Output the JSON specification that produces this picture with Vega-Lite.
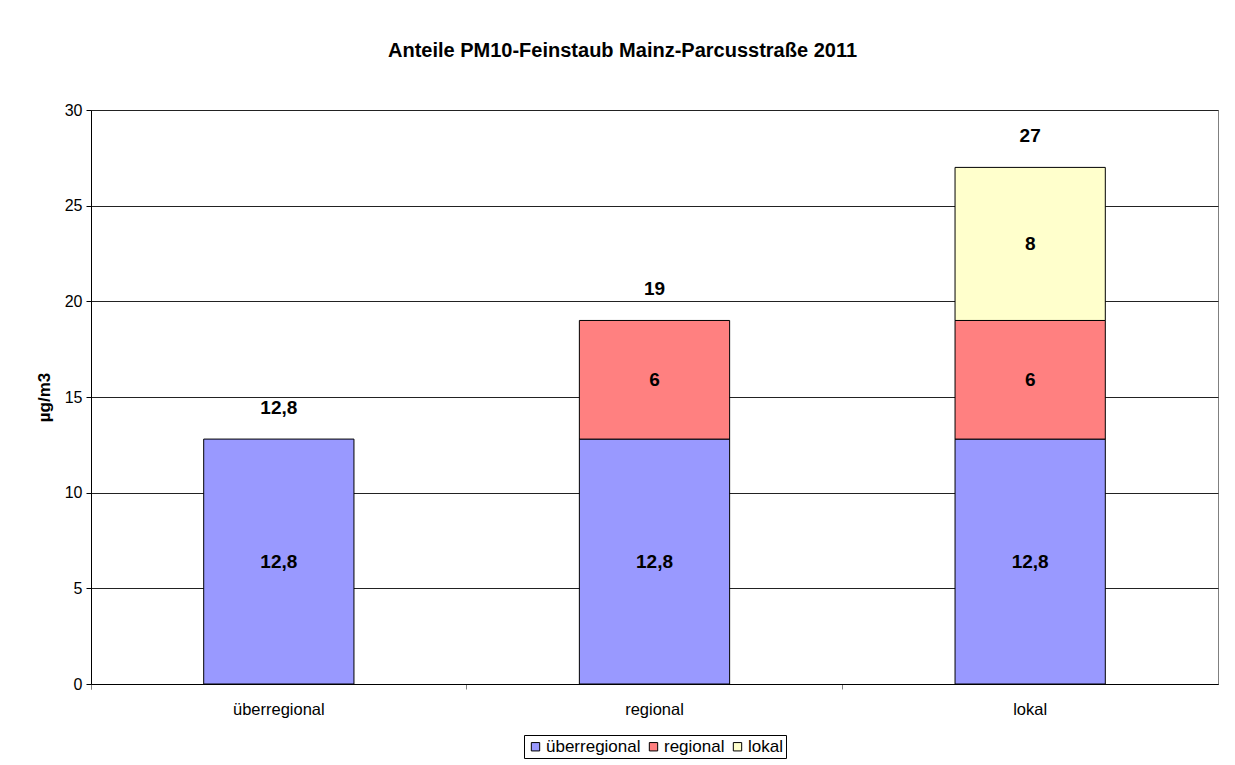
{
  "$schema": "https://vega.github.io/schema/vega-lite/v6.json",
  "width": 1127,
  "height": 574,
  "autosize": {"type": "none"},
  "padding": {"left": 91, "top": 110, "right": 17, "bottom": 81},
  "background": "white",
  "config": {
    "font": "Liberation Sans",
    "locale": {"number": {"decimal": ",", "thousands": ".", "grouping": [3], "currency": ["", " €"]}},
    "view": {"stroke": "#808080", "strokeWidth": 1}
  },
  "title": {
    "text": "Anteile PM10-Feinstaub Mainz-Parcusstraße 2011",
    "fontSize": 20,
    "fontWeight": "bold",
    "color": "black",
    "anchor": "middle",
    "baseline": "alphabetic",
    "offset": 25,
    "dx": -32
  },
  "data": {
    "values": [
      {"category": "überregional", "component": "überregional", "value": 12.8},
      {"category": "regional", "component": "überregional", "value": 12.8},
      {"category": "regional", "component": "regional", "value": 6.2},
      {"category": "lokal", "component": "überregional", "value": 12.8},
      {"category": "lokal", "component": "regional", "value": 6.2},
      {"category": "lokal", "component": "lokal", "value": 8}
    ]
  },
  "transform": [
    {"calculate": "indexof(['überregional','regional','lokal'], datum.component)", "as": "idx"},
    {"stack": "value", "groupby": ["category"], "sort": [{"field": "idx", "order": "ascending"}], "as": ["v0", "v1"]},
    {"calculate": "(datum.v0 + datum.v1) / 2", "as": "mid"},
    {"calculate": "datum.value >= 10 ? format(datum.value, '.1f') : format(datum.value, '.0f')", "as": "label"}
  ],
  "encoding": {
    "x": {
      "field": "category",
      "type": "nominal",
      "sort": ["überregional", "regional", "lokal"],
      "scale": {"paddingInner": 0, "paddingOuter": 0},
      "axis": {
        "title": null,
        "labelAngle": 0,
        "labelFontSize": 16.5,
        "labelColor": "black",
        "labelPadding": 12,
        "bandPosition": 0,
        "tickExtra": true,
        "tickSize": 5,
        "tickColor": "#808080",
        "domainColor": "black",
        "grid": false
      }
    }
  },
  "layer": [
    {
      "mark": {"type": "bar", "width": {"band": 0.4}, "stroke": "black", "strokeWidth": 1},
      "encoding": {
        "y": {
          "field": "v1",
          "type": "quantitative",
          "scale": {"domain": [0, 30], "nice": false},
          "axis": {
            "title": "µg/m3",
            "titleFontSize": 17,
            "titleFontWeight": "bold",
            "titleColor": "black",
            "titleX": -38,
            "titleY": 287,
            "titleAngle": -90,
            "titleBaseline": "bottom",
            "titleAlign": "center",
            "values": [0, 5, 10, 15, 20, 25, 30],
            "labelFontSize": 16,
            "labelColor": "black",
            "labelPadding": 4,
            "tickSize": 5,
            "tickColor": "black",
            "domainColor": "black",
            "grid": true,
            "gridColor": "#222222",
            "gridOpacity": 1
          }
        },
        "y2": {"field": "v0"},
        "color": {
          "field": "component",
          "type": "nominal",
          "scale": {"domain": ["überregional", "regional", "lokal"], "range": ["#9999FF", "#FF8080", "#FFFFCC"]},
          "legend": {
            "title": null,
            "orient": "none",
            "direction": "horizontal",
            "columns": 3,
            "legendX": 433,
            "legendY": 625,
            "strokeColor": "black",
            "padding": 3,
            "symbolType": "square",
            "symbolSize": 70,
            "symbolStrokeColor": "black",
            "symbolStrokeWidth": 1,
            "labelFontSize": 17,
            "labelColor": "black",
            "labelOffset": 2,
            "columnPadding": 4
          }
        }
      }
    },
    {
      "mark": {"type": "text", "fontSize": 19, "fontWeight": "bold", "color": "black", "baseline": "middle"},
      "encoding": {
        "y": {"field": "mid", "type": "quantitative"},
        "text": {"field": "label"}
      }
    },
    {
      "transform": [{"aggregate": [{"op": "max", "field": "v1", "as": "total"}], "groupby": ["category"]}],
      "mark": {"type": "text", "fontSize": 19, "fontWeight": "bold", "color": "black", "baseline": "middle", "dy": -31},
      "encoding": {
        "y": {"field": "total", "type": "quantitative"},
        "text": {"field": "total", "type": "quantitative", "format": ".3~r"}
      }
    }
  ]
}
